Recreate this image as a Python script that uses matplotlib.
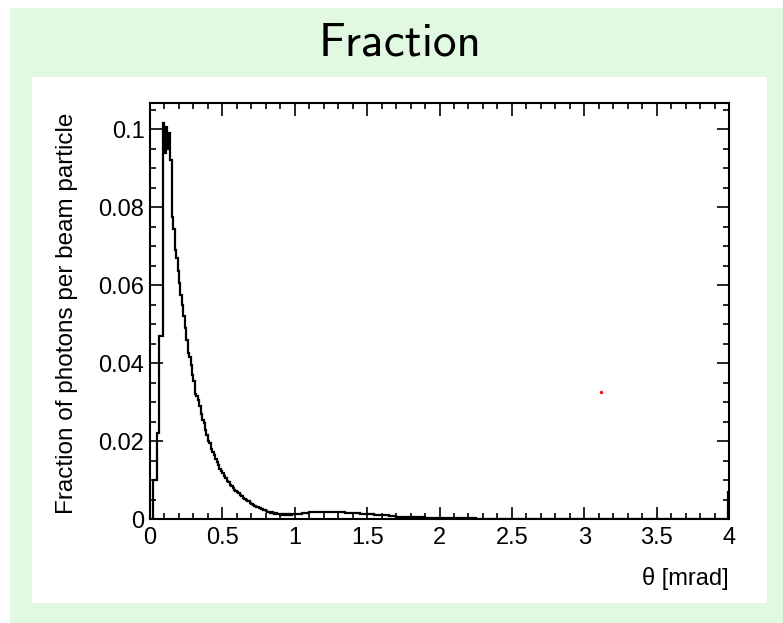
import numpy as np
import matplotlib.pyplot as plt
from matplotlib.patches import Rectangle

# fraction per bin, 0.01 mrad bins from 0 to 1 mrad
fine_vals = [0.0, 0.0, 0.010, 0.010, 0.010, 0.022, 0.047, 0.047, 0.047, 0.1015,
             0.094, 0.1005, 0.095, 0.099, 0.092, 0.0775, 0.0745, 0.069, 0.067, 0.0635,
             0.0605, 0.0575, 0.055, 0.052, 0.049, 0.046, 0.0425, 0.0415, 0.0395, 0.037,
             0.0355, 0.032, 0.0315, 0.0305, 0.029, 0.027, 0.0255, 0.0245, 0.0228, 0.0215,
             0.020, 0.0195, 0.018, 0.0172, 0.0165, 0.0155, 0.0145, 0.0138, 0.0128, 0.0122,
             0.0118, 0.011, 0.0104, 0.0098, 0.0094, 0.0088, 0.0085, 0.0079, 0.0075, 0.0072,
             0.0068, 0.0066, 0.0062, 0.0058, 0.0055, 0.0052, 0.0049, 0.0046, 0.0045, 0.0042,
             0.0039, 0.0037, 0.0034, 0.0032, 0.0031, 0.0029, 0.0027, 0.0025, 0.0024, 0.0022,
             0.0021, 0.0019, 0.0018, 0.0016, 0.0017, 0.0015, 0.0014, 0.0015, 0.0013, 0.0012,
             0.0013, 0.0011, 0.0012, 0.0011, 0.0012, 0.0011, 0.0012, 0.0011, 0.0012, 0.0012]

# 0.05 mrad bins from 1 to 3.95 mrad
tail_vals = [0.0013, 0.0015, 0.0017, 0.0018, 0.0017, 0.0019, 0.0017, 0.0016, 0.0015, 0.0013,
             0.0012, 0.0010, 0.0009, 0.0008, 0.0006, 0.0005, 0.0004, 0.0004, 0.0003, 0.0003,
             0.00025, 0.0002, 0.0002, 0.00015, 0.00015, 0.00012, 0.0001, 0.0001, 0.0001, 0.00008,
             0.00008, 0.00007, 0.00006, 0.00006, 0.00005, 0.00005, 0.00004, 0.00004, 0.00004, 0.00003,
             0.00003, 0.00003, 0.00003, 0.00003, 0.00002, 0.00002, 0.00002, 0.00002, 0.00002, 0.00002,
             0.00002, 0.00001, 0.00001, 0.00001, 0.00001, 0.00001, 0.00001, 0.00001, 0.00001]

# last two bins: 3.95-3.99 and 3.99-4.0
end_vals = [0.00002, 0.0068]

marker_x = [3.116]
marker_y = [0.0326]

xticks = [0, 0.5, 1, 1.5, 2, 2.5, 3, 3.5, 4]
xlabels = ['0', '0.5', '1', '1.5', '2', '2.5', '3', '3.5', '4']
yticks = [0, 0.02, 0.04, 0.06, 0.08, 0.1]
ylabels = ['0', '0.02', '0.04', '0.06', '0.08', '0.1']

edges = np.concatenate([np.arange(0, 100) * 0.01,
                        1.0 + np.arange(0, 60) * 0.05,
                        [3.99, 4.0]])
vals = np.array(fine_vals + tail_vals + end_vals)

W, H = 783, 623
fig = plt.figure(figsize=(W / 100, H / 100), dpi=100)
fig.patch.set_facecolor('white')
fig.patches.append(Rectangle((10 / W, 0), 1, 1 - 8 / H, transform=fig.transFigure,
                             facecolor='#e1f9e1', edgecolor='none', zorder=-2))
fig.patches.append(Rectangle((32 / W, 1 - 603 / H), (767 - 32) / W, (603 - 77) / H,
                             transform=fig.transFigure, facecolor='white',
                             edgecolor='none', zorder=-1))

fig.text(400 / W, 1 - 43 / H, 'Fraction', family='cmss10', fontsize=34,
         ha='center', va='center')

ax = fig.add_axes([150 / W, 1 - 519 / H, (729 - 150) / W, (519 - 103) / H])
ax.stairs(vals, edges, color='black', linewidth=1.6, baseline=0)
ax.plot(marker_x, marker_y, 'o', color='red', markersize=2.4, markeredgewidth=0)

ax.set_xlim(0, 4)
ax.set_ylim(0, 0.1067)
ax.set_xticks(xticks)
ax.set_xticklabels(xlabels)
ax.set_yticks(yticks)
ax.set_yticklabels(ylabels)
ax.set_xticks(np.arange(0, 41) * 0.1, minor=True)
ax.set_yticks(np.arange(0, 22) * 0.005, minor=True)
ax.tick_params(which='both', direction='in', top=True, right=True, width=1.2,
               labelsize=17, labelfontfamily='Liberation Sans')
ax.tick_params(which='major', length=9, pad=4)
ax.tick_params(which='minor', length=4.5)
ax.tick_params(axis='x', pad=6)
for s in ax.spines.values():
    s.set_linewidth(1.5)

fig.text(67 / W, 1 - 313 / H, 'Fraction of photons per beam particle',
         family='Liberation Sans', fontsize=17.5, rotation=90, ha='center', va='center')
fig.text(729 / W, 1 - 578 / H, 'θ [mrad]', family='Liberation Sans', fontsize=17,
         ha='right', va='center')

fig.savefig('out.png', dpi=100)
